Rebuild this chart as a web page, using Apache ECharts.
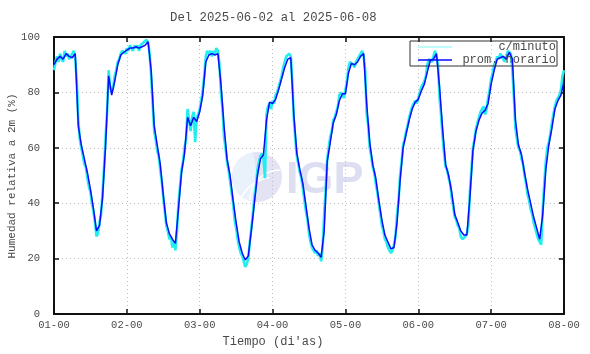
<!DOCTYPE html>
<html>
<head>
<meta charset="utf-8">
<script src="https://cdn.jsdelivr.net/npm/echarts@6/dist/echarts.min.js"></script>
<style>html,body{margin:0;padding:0;background:#fff}#c{width:590px;height:354px}</style>
</head>
<body>
<div id="c"></div>
<script>
// Hourly average relative humidity (%), one value per hour from 01-00 to 08-00
const hourlyHum = [
  90,92,93,92,94,93,92.5,94,68,61,56,51,45,38,30,32,42,61,86,79,84,90,93.5,94.5,
  95.3,96,96,96.5,96,96.5,97,98.3,88,68,61,54,43,33,29,27,25.5,38,51,58,71,68,71,69.5,
  73,79,91,93.5,94,93.5,94,83,68,56,50,41,33,26,22,19.5,21,30,40,50,56,57.5,70,76.5,
  76,77.5,81,85,89,92,92.5,72,58,52,47,39,31,25,23,22,20.5,30,55,62,69,72,77,79.5,
  79.5,87,90.5,90,91,93,94,76,62,54,49,41,34,28.5,26,23.5,24,33,48,60,65,70,74,76.5,
  77.5,80.5,83,87.5,91.7,92,94,82,67,54,50,44,36,33,30,28.5,28.5,42,59,66,70,72.5,73.5,76,
  83,88,92,92.5,93,92,94.5,92,70,61,57.5,51,45,40,35,31,27,36,52,61,67,74,77,79,
  84
];
// Fine-resolution readings (every half hour)
const minuteHum = [
  88,91,93,91,94,92,91,95,93,94,92,93,94,95,92,84,70,63,60,57,54,53,49,46,44,40,37,33,28,29,33,36,44,53,64,73,88,82,80,82,86,88,91,92,94,95,95,94,
  96,95,97,96,95,97,96,97,95,97,97,98,98,99,98,94,86,76,66,63,59,57,52,48,42,37,32,30,27,28,24,26,23,30,40,46,52,55,60,63,74,70,66,71,73,62,71,72,
  74,77,81,86,93,95,94,95,93,95,94,96,95,90,80,74,64,60,55,52,48,44,40,34,31,27,24,22,21,19,17,18,20,26,31,36,42,46,52,55,57,58,56,49,72,75,76,74,
  77,76,79,80,82,84,86,89,91,93,93,94,93,84,70,63,57,54,51,49,45,41,37,34,29,26,24,23,22,23,21,22,19,24,36,45,56,60,64,66,70,71,73,75,79,80,80,78,
  81,84,89,91,91,90,89,91,92,93,94,95,93,88,72,68,60,57,53,51,47,44,40,36,32,30,27,26,24,23,22,23,25,28,36,41,50,55,61,63,66,68,71,73,75,76,77,76,
  78,80,82,82,84,86,90,92,92,91,93,95,95,90,78,72,64,58,53,52,49,47,42,39,35,34,32,31,28,27,27,28,29,32,44,52,60,63,67,69,71,73,74,75,72,74,78,81,
  85,87,90,91,93,92,94,93,92,91,93,95,95,94,88,78,67,63,60,59,56,54,50,47,43,41,38,36,33,31,29,27,26,25,38,47,55,60,62,65,69,72,75,77,78,79,81,86,
  88
];
const xTickLabels = ['01-00','02-00','03-00','04-00','05-00','06-00','07-00','08-00'];
const seriesNames = ['c/minuto','prom. horario'];
const titleText = 'Del 2025-06-02 al 2025-06-08';
const xName = "Tiempo (di'as)";
const yName = 'Humedad relativa a 2m (%)';

const FONT = 'Liberation Mono';
const TXT = '#4a4a4a';
const chart = echarts.init(document.getElementById('c'), null, {renderer:'canvas'});

const hourlyData = hourlyHum.map((v,i)=>[i, v]);
const minuteData = minuteHum.map((v,i)=>[i*0.5, v]);

const gridLine = {show:true, lineStyle:{color:'#bdbdbd', type:[1,3], width:1}};
const frame = {show:true, onZero:false, lineStyle:{color:'#111', width:2}};
const ticksIn = {show:true, inside:true, length:5, lineStyle:{color:'#111', width:1.5}};

chart.setOption({
  animation:false,
  backgroundColor:'#fff',
  title:{text:titleText, left:170, top:12, padding:0, textStyle:{fontFamily:FONT, fontSize:12.3, fontWeight:'normal', color:TXT}},
  grid:{left:54, right:26, top:37, bottom:40},
  xAxis:[
    {type:'value', min:0, max:168, interval:24, axisLine:frame, axisTick:ticksIn, splitLine:gridLine,
     axisLabel:{margin:6, fontFamily:FONT, fontSize:10.5, color:TXT, formatter:(v)=>xTickLabels[Math.round(v/24)]}},
    {type:'value', position:'top', min:0, max:168, interval:24, axisLine:frame, axisTick:ticksIn, splitLine:{show:false}, axisLabel:{show:false}}
  ],
  yAxis:[
    {type:'value', min:0, max:100, interval:20, axisLine:frame, axisTick:ticksIn, splitLine:gridLine,
     axisLabel:{margin:14, fontFamily:FONT, fontSize:10.5, color:TXT}},
    {type:'value', position:'right', min:0, max:100, interval:20, axisLine:frame, axisTick:ticksIn, splitLine:{show:false}, axisLabel:{show:false}}
  ],
  series:[
    {name:seriesNames[0], type:'line', data:minuteData, showSymbol:false, lineStyle:{color:'#22eeee', width:2.6}, z:2},
    {name:seriesNames[1], type:'line', data:hourlyData, showSymbol:false, lineStyle:{color:'#0a0aff', width:1.5}, z:3}
  ],
  graphic:[
    // watermark
    {type:'circle', shape:{cx:257, cy:177, r:25}, style:{fill:'#e3e3f4'}, z:-1, silent:true},
    {type:'sector', shape:{cx:257, cy:177, r:25, startAngle:Math.PI*0.55, endAngle:Math.PI*1.45}, style:{fill:'#e9f1fb'}, z:-1, silent:true},
    {type:'arc', shape:{cx:280, cy:200, r:30, startAngle:Math.PI, endAngle:Math.PI*1.5}, style:{stroke:'#ffffff', lineWidth:1.5, fill:null}, z:-1, silent:true},
    {type:'arc', shape:{cx:275, cy:215, r:38, startAngle:Math.PI, endAngle:Math.PI*1.45}, style:{stroke:'#ffffff', lineWidth:1.5, fill:null}, z:-1, silent:true},
    {type:'text', x:286, y:158, style:{text:'IGP', font:'bold 45px "Liberation Sans"', fill:'#dedef2'}, z:-1, silent:true},
    // axis names
    {type:'text', x:273, y:342, style:{text:xName, textAlign:'center', textVerticalAlign:'middle', font:'12px "Liberation Mono"', fill:TXT}},
    {type:'text', x:12, y:176, rotation:Math.PI/2, style:{text:yName, textAlign:'center', textVerticalAlign:'middle', font:'11px "Liberation Mono"', fill:TXT}},
    // legend
    {type:'rect', shape:{x:410, y:41, width:147, height:25}, style:{fill:'rgba(255,255,255,0)', stroke:'#333', lineWidth:1}, z:10},
    {type:'line', shape:{x1:418, y1:47, x2:452, y2:47}, style:{stroke:'#7ff7f7', lineWidth:1}, z:10},
    {type:'line', shape:{x1:418, y1:60, x2:452, y2:60}, style:{stroke:'#0a0aff', lineWidth:1.5}, z:10},
    {type:'text', x:556, y:47, style:{text:seriesNames[0], textAlign:'right', textVerticalAlign:'middle', font:'12px "Liberation Mono"', fill:TXT}, z:10},
    {type:'text', x:556, y:60, style:{text:seriesNames[1], textAlign:'right', textVerticalAlign:'middle', font:'12px "Liberation Mono"', fill:TXT}, z:10}
  ]
});
</script>
</body>
</html>
